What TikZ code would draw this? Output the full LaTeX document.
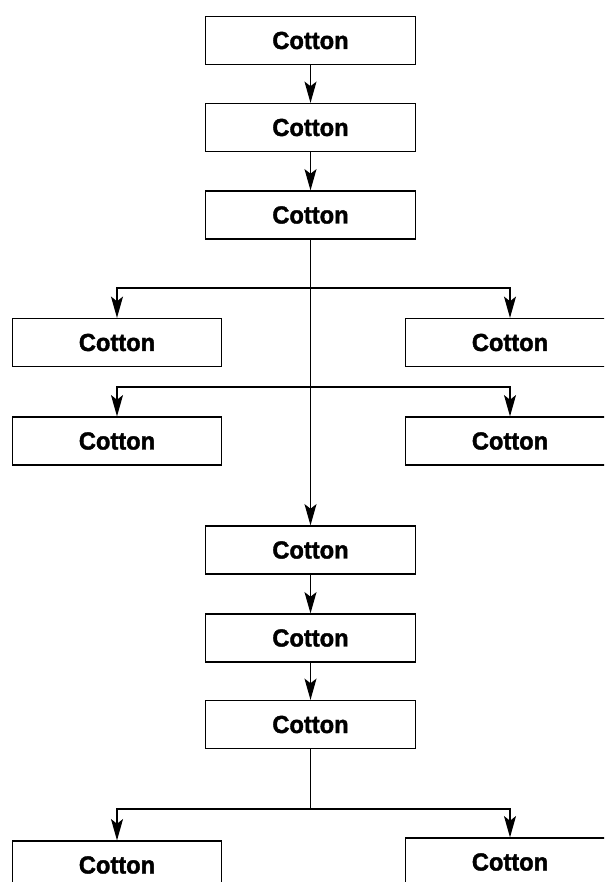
\documentclass[tikz,border=0pt]{standalone}
\usepackage{fontspec}
\setmainfont{Liberation Sans}[BoldFeatures={FakeBold=1.6,FakeStretch=0.96}]
\usetikzlibrary{arrows.meta}

\tikzset{
  box/.style={draw, line width=0.9pt, minimum width=157pt, minimum height=36pt,
    inner sep=0pt, font=\bfseries\fontsize{18.5}{20}\selectfont},
  flow/.style={line width=0.9pt, -{Stealth[length=16pt,width=9pt,inset=3.5pt]}},
  link/.style={line width=0.9pt},
}

\begin{document}
\begin{tikzpicture}[x=0.75pt,y=-0.75pt]
	\useasboundingbox (0,0) rectangle (604,882);
	\clip (0,0) rectangle (604,882);

	% main column
	\node[box] (c1) at (310.5,40.5) {Cotton};
	\node[box] (c2) at (310.5,127.5) {Cotton};
	\node[box] (c3) at (310.5,215) {Cotton};
	\node[box] (c7) at (310.5,550) {Cotton};
	\node[box] (c8) at (310.5,638) {Cotton};
	\node[box] (c9) at (310.5,724.5) {Cotton};

	% side boxes
	\node[box] (l1) at (117,342.5) {Cotton};
	\node[box] (r1) at (510,342.5) {Cotton};
	\node[box] (l2) at (117,441) {Cotton};
	\node[box] (r2) at (510,441) {Cotton};
	\node[box] (l3) at (117,865) {Cotton};
	\node[box] (r3) at (510,862) {Cotton};

	% branch points
	\coordinate (j1) at (310.5,288);
	\coordinate (j2) at (310.5,387);
	\coordinate (j3) at (310.5,809);

	\draw[flow] (c1) -- (c2);
	\draw[flow] (c2) -- (c3);
	\draw[flow] (c3) -- (c7);
	\draw[flow] (j1) -| (l1);
	\draw[flow] (j1) -| (r1);
	\draw[flow] (j2) -| (l2);
	\draw[flow] (j2) -| (r2);

	\draw[flow] (c7) -- (c8);
	\draw[flow] (c8) -- (c9);
	\draw[link] (c9) -- (j3);
	\draw[flow] (j3) -| (l3);
	\draw[flow] (j3) -| (r3);
\end{tikzpicture}
\end{document}
